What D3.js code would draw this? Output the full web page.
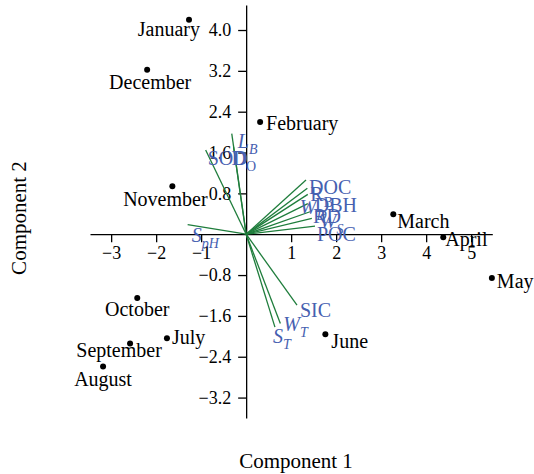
<!DOCTYPE html>
<html>
<head>
<meta charset="utf-8">
<script src="https://cdn.jsdelivr.net/npm/d3@7"></script>
<style>
  html, body { margin: 0; padding: 0; background: #fff; }
  svg { display: block; font-family: "Liberation Serif", "Times New Roman", serif; }
</style>
</head>
<body>
<svg id="chart" width="534" height="474"></svg>
<script>
// Month scores on the first two principal components
const months = ["January", "February", "March", "April", "May", "June",
                "July", "August", "September", "October", "November", "December"];
const monthPC1 = [-1.27, 0.31, 3.27, 4.38, 5.46, 1.76, -1.76, -3.18, -2.58, -2.42, -1.64, -2.20];
const monthPC2 = [4.20, 2.20, 0.39, -0.06, -0.86, -1.96, -2.04, -2.59, -2.14, -1.25, 0.94, 3.22];

// Variable loadings (vector tips)
const varMain   = ["L", "D", "SOD", "S", "DOC", "R", "DBH", "W", "RD", "W", "POC", "SIC", "W", "S"];
const varSub    = ["B", "O", "", "pH", "", "B", "", "D", "", "S", "", "", "T", "T"];
const varItalic = [true, false, false, true, false, false, false, true, false, true, false, false, true, true];
const varPC1 = [-0.32, -0.28, -0.90, -1.30, 1.33, 1.36, 1.37, 1.37, 1.42, 1.46, 1.53, 1.13, 0.76, 0.64];
const varPC2 = [1.97, 1.71, 1.65, 0.19, 1.06, 0.90, 0.78, 0.60, 0.44, 0.31, 0.16, -1.39, -1.75, -1.82];

// Axis ticks
const xTicks = [-3, -2, -1, 1, 2, 3, 4, 5];
const yTicks = [-3.2, -2.4, -1.6, -0.8, 0.8, 1.6, 2.4, 3.2, 4.0];

const svg = d3.select("#chart");
const x = d3.scaleLinear().domain([-3.47, 5.47]).range([90, 492.3]);
const y = d3.scaleLinear().domain([-3.6, 4.49]).range([418, 5]);

const green = "#1f7d3c";
const blue = "#4660b0";
const tickFont = 18;
const monthFont = 20;
const varFont = 20;

// Axes crossing at the origin
const xAxis = svg.append("g")
  .attr("transform", `translate(0,${y(0)})`)
  .call(d3.axisBottom(x).tickValues(xTicks).tickSize(8).tickSizeOuter(0).tickPadding(4).tickFormat(d3.format("d")));
const yAxis = svg.append("g")
  .attr("transform", `translate(${x(0)},0)`)
  .call(d3.axisLeft(y).tickValues(yTicks).tickSize(8).tickSizeOuter(0).tickPadding(7).tickFormat(d3.format(".1f")));

[xAxis, yAxis].forEach(g => {
  g.selectAll("path, line").attr("stroke", "#000").attr("stroke-width", 1.3);
  g.selectAll("text").attr("fill", "#000").style("font-size", tickFont + "px")
    .style("font-family", "'Liberation Serif', serif");
});

// Loading vectors
const vars = varMain.map((m, i) => ({ main: m, sub: varSub[i], italic: varItalic[i], px: varPC1[i], py: varPC2[i] }));

svg.append("g").selectAll("line").data(vars).join("line")
  .attr("x1", x(0)).attr("y1", y(0))
  .attr("x2", d => x(d.px)).attr("y2", d => y(d.py))
  .attr("stroke", green).attr("stroke-width", 1.3);

// Label nudges (px) from each vector tip to the text baseline start
const varNudge = {
  0: [6, 14], 1: [-2, 18], 2: [2, 15], 3: [4, 17],
  4: [3, 14], 5: [3, 13], 6: [7, 18], 7: [-8, 10],
  8: [3, 11], 9: [8, 10], 10: [2, 15],
  11: [3, 12], 12: [3, 7], 13: [-2, 16]
};

const varLabels = svg.append("g").selectAll("text").data(vars).join("text")
  .attr("x", (d, i) => x(d.px) + varNudge[i][0])
  .attr("y", (d, i) => y(d.py) + varNudge[i][1])
  .attr("fill", blue)
  .style("font-size", varFont + "px");

varLabels.append("tspan")
  .style("font-style", d => d.italic ? "italic" : "normal")
  .text(d => d.main);
varLabels.filter(d => d.sub !== "").append("tspan")
  .attr("dy", 6)
  .style("font-size", "14px")
  .style("font-style", d => d.italic ? "italic" : "normal")
  .text(d => d.sub);

// Month scores
const pts = months.map((m, i) => ({ name: m, px: monthPC1[i], py: monthPC2[i] }));

svg.append("g").selectAll("circle").data(pts).join("circle")
  .attr("cx", d => x(d.px)).attr("cy", d => y(d.py)).attr("r", 3).attr("fill", "#000");

// Label placement: [dx, dy, anchor]
const monthPlace = {
  January: [11, 16, "end"], February: [6, 8, "start"], March: [4, 14, "start"],
  April: [2, 9, "start"], May: [5, 10, "start"], June: [6, 14, "start"],
  July: [5, 6, "start"], August: [0, 20, "middle"], September: [-11, 14, "middle"],
  October: [0, 18, "middle"], November: [-7, 20, "middle"], December: [3, 19, "middle"]
};

svg.append("g").selectAll("text").data(pts).join("text")
  .attr("x", d => x(d.px) + monthPlace[d.name][0])
  .attr("y", d => y(d.py) + monthPlace[d.name][1])
  .attr("text-anchor", d => monthPlace[d.name][2])
  .attr("fill", "#000")
  .style("font-size", monthFont + "px")
  .text(d => d.name);

// Axis titles
svg.append("text")
  .attr("x", 296).attr("y", 468)
  .attr("text-anchor", "middle")
  .style("font-size", "21px")
  .text("Component 1");
svg.append("text")
  .attr("transform", "translate(26,218) rotate(-90)")
  .attr("text-anchor", "middle")
  .style("font-size", "21px")
  .text("Component 2");
</script>
</body>
</html>
